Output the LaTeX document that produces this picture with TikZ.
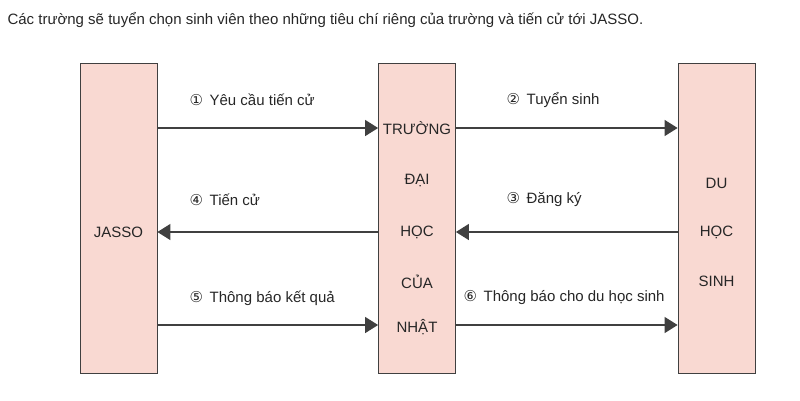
\documentclass[tikz,border=0pt]{standalone}
\usepackage{fontspec}
\setmainfont{Liberation Sans}
\newfontfamily\djvfont{DejaVu Sans}
\usetikzlibrary{arrows.meta}
\definecolor{boxfill}{HTML}{F9D9D2}
\begin{document}
\begin{tikzpicture}[x=1pt,y=-1pt,
  bx/.style={draw=black!75,fill=boxfill,line width=0.8pt,minimum width=77pt,minimum height=310pt,inner sep=0pt},
  lbl/.style={font=\fontsize{15}{17}\selectfont,text=black!85},
  arr/.style={draw=black!75,line width=1.3pt,-{Triangle[length=13pt,width=16pt]}}]
\useasboundingbox (0,0) rectangle (800,400);
\node[lbl,anchor=west] (title) at (4,20) {Các trường sẽ tuyển chọn sinh viên theo những tiêu chí riêng của trường và tiến cử tới JASSO.};
\node[bx] (j) at (118.5,218) {};
\node[bx] (m) at (417,218) {};
\node[bx] (s) at (716.5,218) {};
\node[lbl] (jt) at (118.5,232) {JASSO};
\node[lbl] (m1) at (417,128) {TRƯỜNG};
\node[lbl] (m2) at (417,180) {ĐẠI};
\node[lbl] (m3) at (417,232) {HỌC};
\node[lbl] (m4) at (417,282) {CỦA};
\node[lbl] (m5) at (417,327) {NHẬT};
\node[lbl] (s1) at (716.5,183) {DU};
\node[lbl] (s2) at (716.5,232) {HỌC};
\node[lbl] (s3) at (716.5,281) {SINH};
\draw[arr] (j.east |- 0,128) -- (m.west |- 0,128);
\draw[arr] (m.west |- 0,232) -- (j.east |- 0,232);
\draw[arr] (j.east |- 0,325) -- (m.west |- 0,325);
\draw[arr] (m.east |- 0,128) -- (s.west |- 0,128);
\draw[arr] (s.west |- 0,232) -- (m.east |- 0,232);
\draw[arr] (m.east |- 0,325) -- (s.west |- 0,325);
\node[lbl,anchor=west] (l1) at (186,100) {{\djvfont\char"2460}\, Yêu cầu tiến cử};
\node[lbl,anchor=west] (l4) at (186,200) {{\djvfont\char"2463}\, Tiến cử};
\node[lbl,anchor=west] (l5) at (186,298) {{\djvfont\char"2464}\, Thông báo kết quả};
\node[lbl,anchor=west] (l2) at (503,100) {{\djvfont\char"2461}\, Tuyển sinh};
\node[lbl,anchor=west] (l3) at (503,200) {{\djvfont\char"2462}\, Đăng ký};
\node[lbl,anchor=west] (l6) at (460,298) {{\djvfont\char"2465}\, Thông báo cho du học sinh};
\end{tikzpicture}
\end{document}
